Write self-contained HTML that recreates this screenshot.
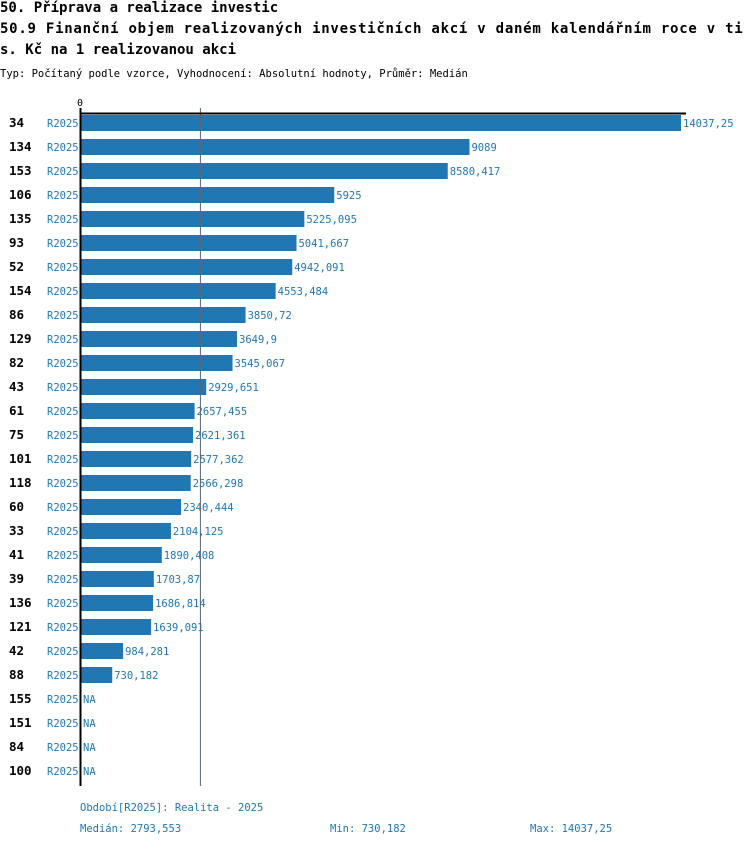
<!DOCTYPE html>
<html><head><meta charset="utf-8"><style>
body{margin:0;background:#fff;width:750px;height:846px;overflow:hidden;font-family:"DejaVu Sans Mono","Liberation Mono",monospace;position:relative}
.t{position:absolute;left:0;width:750px;overflow:hidden;font-size:14px;font-weight:bold;color:#000;white-space:nowrap}
</style></head><body>
<div class="t" style="top:0px">50. Příprava a realizace investic</div>
<div class="t" style="top:21px;letter-spacing:0.75px">50.9 Finanční objem realizovaných investičních akcí v daném kalendářním roce v ti</div>
<div class="t" style="top:42px">s. Kč na 1 realizovanou akci</div>
<svg id="c" width="750" height="846" style="position:absolute;left:0;top:0">
<text x="0" y="77" font-size="10.5" fill="#000">Typ: Počítaný podle vzorce, Vyhodnocení: Absolutní hodnoty, Průměr: Medián</text>
</svg>
<script>
const ids=["34","134","153","106","135","93","52","154","86","129","82","43","61","75","101","118","60","33","41","39","136","121","42","88","155","151","84","100"];
const values=[14037.25,9089,8580.417,5925,5225.095,5041.667,4942.091,4553.484,3850.72,3649.9,3545.067,2929.651,2657.455,2621.361,2577.362,2566.298,2340.444,2104.125,1890.408,1703.87,1686.814,1639.091,984.281,730.182,null,null,null,null];
const labels=["14037,25","9089","8580,417","5925","5225,095","5041,667","4942,091","4553,484","3850,72","3649,9","3545,067","2929,651","2657,455","2621,361","2577,362","2566,298","2340,444","2104,125","1890,408","1703,87","1686,814","1639,091","984,281","730,182","NA","NA","NA","NA"];
const median=2793.553, maxV=14037.25;
const svg=document.getElementById('c');const NS='http://www.w3.org/2000/svg';
const x=v=>81+v*600/maxV;const y=i=>115+i*24;
function mk(t,a,txt){const e=document.createElementNS(NS,t);for(const k in a)e.setAttribute(k,a[k]);if(txt!=null)e.textContent=txt;svg.appendChild(e);return e;}
let e;
e=mk('text',{x:77,y:106,'font-size':10,fill:'#000'},'0');


ids.forEach((id,i)=>{
 const cy=y(i)+8;
 e=mk('text',{x:9,y:cy+4,'font-size':12.5,'font-weight':'bold',fill:'#000'},id);
 
 
 e=mk('text',{x:47,y:cy+4,'font-size':10.5,fill:'#1f77b4'},'R2025');
 
 
 let end=81;
 if(values[i]!=null){
  e=mk('rect',{x:81,y:y(i),width:x(values[i])-81,height:16,fill:'#1f77b4'});
  
  
  end=x(values[i]);
 }
 e=mk('text',{x:end+2,y:cy+4,'font-size':10.5,fill:'#1f77b4'},labels[i]);
 
 
});
e=mk('line',{x1:x(median),x2:x(median),y1:108,y2:786,stroke:'#556677','stroke-width':1});


e=mk('line',{x1:80,x2:686,y1:113.5,y2:113.5,stroke:'#000','stroke-width':2});


e=mk('line',{x1:80.5,x2:80.5,y1:108,y2:786,stroke:'#000','stroke-width':2});


e=mk('text',{x:80,y:811,'font-size':10.5,fill:'#1f77b4'},'Období[R2025]: Realita - 2025');


e=mk('text',{x:80,y:832,'font-size':10.5,fill:'#1f77b4'},'Medián: 2793,553');


e=mk('text',{x:330,y:832,'font-size':10.5,fill:'#1f77b4'},'Min: 730,182');


e=mk('text',{x:530,y:832,'font-size':10.5,fill:'#1f77b4'},'Max: 14037,25');


</script>
</body></html>
